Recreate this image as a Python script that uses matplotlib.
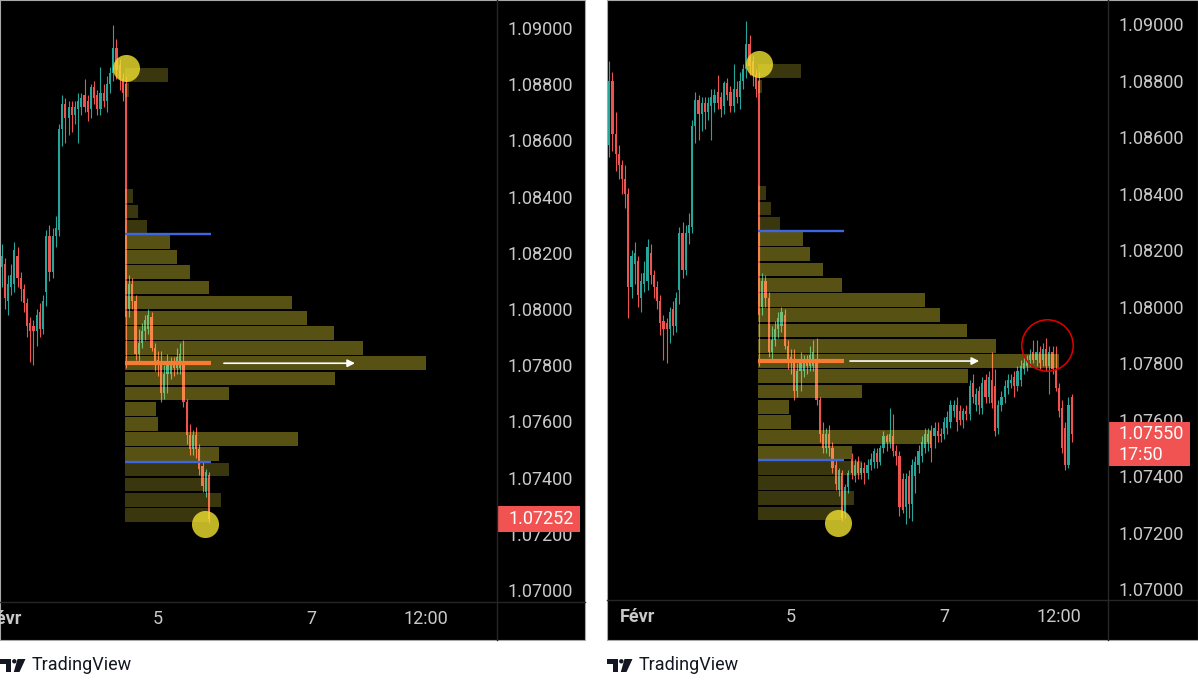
import matplotlib
matplotlib.use("Agg")
import matplotlib.pyplot as plt
from matplotlib.patches import Rectangle, Polygon, Ellipse
from matplotlib.lines import Line2D
import numpy as np

plt.rcParams['font.family'] = ['Roboto', 'DejaVu Sans']

# hourly EURUSD candles, bar 0 = Feb 5 00:00
first_bar = -57
opens = [1.0857, 1.0880, 1.0861, 1.0854, 1.0850, 1.0845, 1.0840, 1.0807, 1.0815, 1.0816,
         1.0803, 1.0808, 1.0809, 1.0819, 1.0811, 1.0807, 1.0802, 1.0795, 1.0794, 1.0792,
         1.0799, 1.0793, 1.0806, 1.0826, 1.0813, 1.0826, 1.0828, 1.0864, 1.0873, 1.0868,
         1.0872, 1.0869, 1.0871, 1.0872, 1.0876, 1.0874, 1.0871, 1.0879, 1.0876, 1.0871,
         1.0877, 1.0874, 1.0880, 1.0884, 1.0893, 1.0887, 1.0882, 1.0880, 1.0800, 1.0809,
         1.0803, 1.0784, 1.0788, 1.0792, 1.0793, 1.0797, 1.0786, 1.0782, 1.0780, 1.0770,
         1.0777, 1.0777, 1.0781, 1.0779, 1.0779, 1.0781, 1.0767, 1.0755, 1.0750, 1.0755,
         1.0750, 1.0744, 1.0735, 1.0741, 1.0727, 1.0736, 1.0746, 1.0740, 1.0745, 1.0741,
         1.0743, 1.0741, 1.0744, 1.0745, 1.0748, 1.0745, 1.0750, 1.0754, 1.0752, 1.0754,
         1.0749, 1.0747, 1.0739, 1.0729, 1.0740, 1.0730, 1.0740, 1.0744, 1.0747, 1.0750,
         1.0752, 1.0756, 1.0754, 1.0756, 1.0755, 1.0755, 1.0757, 1.0759, 1.0763, 1.0765,
         1.0763, 1.0760, 1.0763, 1.0762, 1.0773, 1.0765, 1.0770, 1.0764, 1.0774, 1.0768,
         1.0774, 1.0772, 1.0757, 1.0765, 1.0768, 1.0771, 1.0773, 1.0775, 1.0772, 1.0774,
         1.0778, 1.0779, 1.0781, 1.0784, 1.0781, 1.0784, 1.0781, 1.0785, 1.0779, 1.0784,
         1.0778, 1.0771, 1.0764, 1.0757, 1.0744, 1.0768]
highs = [1.0887, 1.0883, 1.0869, 1.0857, 1.0852, 1.0850, 1.0842, 1.0820, 1.0823, 1.0818,
         1.0812, 1.0816, 1.0824, 1.0822, 1.0813, 1.0809, 1.0804, 1.0797, 1.0796, 1.0800,
         1.0802, 1.0805, 1.0828, 1.0830, 1.0829, 1.0833, 1.0866, 1.0876, 1.0875, 1.0874,
         1.0874, 1.0874, 1.0877, 1.0877, 1.0882, 1.0876, 1.0880, 1.0881, 1.0878, 1.0886,
         1.0880, 1.0883, 1.0886, 1.0901, 1.0896, 1.0889, 1.0884, 1.0883, 1.0812, 1.0811,
         1.0805, 1.0793, 1.0795, 1.0798, 1.0800, 1.0799, 1.0788, 1.0785, 1.0785, 1.0780,
         1.0784, 1.0783, 1.0783, 1.0786, 1.0788, 1.0789, 1.0768, 1.0759, 1.0757, 1.0758,
         1.0752, 1.0746, 1.0743, 1.0742, 1.0737, 1.0742, 1.0748, 1.0746, 1.0747, 1.0745,
         1.0745, 1.0746, 1.0748, 1.0750, 1.0750, 1.0751, 1.0756, 1.0755, 1.0764, 1.0762,
         1.0751, 1.0749, 1.0741, 1.0741, 1.0742, 1.0746, 1.0747, 1.0751, 1.0754, 1.0757,
         1.0757, 1.0758, 1.0759, 1.0759, 1.0757, 1.0761, 1.0763, 1.0767, 1.0767, 1.0768,
         1.0765, 1.0764, 1.0765, 1.0774, 1.0776, 1.0771, 1.0772, 1.0775, 1.0776, 1.0777,
         1.0784, 1.0778, 1.0767, 1.0770, 1.0774, 1.0776, 1.0776, 1.0777, 1.0779, 1.0781,
         1.0782, 1.0783, 1.0785, 1.0788, 1.0788, 1.0786, 1.0787, 1.0789, 1.0786, 1.0786,
         1.0786, 1.0773, 1.0767, 1.0759, 1.0768, 1.0769]
lows = [1.0853, 1.0855, 1.0848, 1.0845, 1.0840, 1.0835, 1.0796, 1.0803, 1.0808, 1.0800,
        1.0798, 1.0805, 1.0806, 1.0808, 1.0803, 1.0799, 1.0790, 1.0781, 1.0780, 1.0787,
        1.0790, 1.0791, 1.0801, 1.0810, 1.0811, 1.0822, 1.0826, 1.0858, 1.0859, 1.0862,
        1.0863, 1.0866, 1.0859, 1.0869, 1.0870, 1.0867, 1.0868, 1.0873, 1.0869, 1.0869,
        1.0872, 1.0870, 1.0877, 1.0881, 1.0882, 1.0878, 1.0874, 1.0779, 1.0797, 1.0800,
        1.0782, 1.0781, 1.0786, 1.0789, 1.0791, 1.0785, 1.0778, 1.0776, 1.0767, 1.0768,
        1.0770, 1.0775, 1.0776, 1.0777, 1.0777, 1.0765, 1.0752, 1.0748, 1.0748, 1.0747,
        1.0741, 1.0735, 1.0733, 1.0724, 1.0725, 1.0734, 1.0739, 1.0738, 1.0739, 1.0739,
        1.0737, 1.0739, 1.0742, 1.0743, 1.0743, 1.0744, 1.0748, 1.0749, 1.0750, 1.0747,
        1.0744, 1.0726, 1.0727, 1.0723, 1.0725, 1.0724, 1.0734, 1.0741, 1.0745, 1.0748,
        1.0749, 1.0745, 1.0750, 1.0752, 1.0752, 1.0753, 1.0755, 1.0757, 1.0761, 1.0756,
        1.0758, 1.0757, 1.0760, 1.0760, 1.0766, 1.0763, 1.0762, 1.0762, 1.0766, 1.0766,
        1.0764, 1.0754, 1.0755, 1.0763, 1.0766, 1.0769, 1.0771, 1.0768, 1.0770, 1.0772,
        1.0776, 1.0777, 1.0779, 1.0780, 1.0779, 1.0778, 1.0779, 1.0777, 1.0769, 1.0776,
        1.0770, 1.0761, 1.0748, 1.0742, 1.0743, 1.0752]
closes = [1.0880, 1.0861, 1.0854, 1.0850, 1.0845, 1.0840, 1.0807, 1.0818, 1.0819, 1.0804,
          1.0809, 1.0812, 1.0821, 1.0811, 1.0807, 1.0802, 1.0794, 1.0792, 1.0792, 1.0798,
          1.0793, 1.0803, 1.0826, 1.0813, 1.0826, 1.0829, 1.0864, 1.0873, 1.0868, 1.0872,
          1.0869, 1.0872, 1.0874, 1.0875, 1.0872, 1.0870, 1.0879, 1.0875, 1.0871, 1.0877,
          1.0874, 1.0880, 1.0884, 1.0893, 1.0885, 1.0882, 1.0877, 1.0797, 1.0809, 1.0803,
          1.0784, 1.0788, 1.0792, 1.0796, 1.0798, 1.0786, 1.0781, 1.0780, 1.0770, 1.0777,
          1.0780, 1.0781, 1.0779, 1.0783, 1.0784, 1.0767, 1.0755, 1.0750, 1.0755, 1.0750,
          1.0743, 1.0737, 1.0742, 1.07252, 1.0736, 1.0741, 1.0741, 1.0744, 1.0741, 1.0743,
          1.0741, 1.0744, 1.0746, 1.0749, 1.0745, 1.0750, 1.0754, 1.0752, 1.0755, 1.0749,
          1.0747, 1.0729, 1.0728, 1.0739, 1.0730, 1.0744, 1.0745, 1.0749, 1.0752, 1.0755,
          1.0755, 1.0750, 1.0757, 1.0754, 1.0754, 1.0759, 1.0761, 1.0765, 1.0765, 1.0759,
          1.0760, 1.0763, 1.0762, 1.0772, 1.0768, 1.0769, 1.0765, 1.0773, 1.0768, 1.0775,
          1.0766, 1.0756, 1.0765, 1.0768, 1.0772, 1.0774, 1.0774, 1.0772, 1.0777, 1.0779,
          1.0780, 1.0781, 1.0783, 1.0781, 1.0784, 1.0780, 1.0785, 1.0779, 1.0784, 1.0778,
          1.0771, 1.0763, 1.0750, 1.0744, 1.0765, 1.0755]
left_last_bar = 16   # the first screenshot stops at the Feb 5 low

# fixed range volume profile, 30 rows from the top anchor down to the low
profile_top = 1.08860
profile_bottom = 1.07240
profile_start = -10.34
profile_vol = [43, 4, 0, 0, 0, 0, 0, 0, 8, 13, 22, 45, 52, 65, 84, 166, 181, 208, 237, 300,
               209, 104, 31, 33, 172, 94, 104, 84, 96, 85]
value_area = (11, 25)

price_ticks = [1.070, 1.072, 1.074, 1.076, 1.078, 1.080, 1.082, 1.084, 1.086, 1.088, 1.090]
time_ticks = [-48, 0, 48, 84]
time_labels = ['Févr', '5', '7', '12:00']

swing_high = (-10.0, 1.08858)
swing_low = (14.8, 1.07235)
retest = (80.3, 1.07864)

UP, DOWN = '#26a69a', '#ef5350'
TXT = '#c9c9c9'
W, H = 1198, 689

fig = plt.figure(figsize=(W / 100, H / 100), dpi=100, facecolor='white')


def fx(px):
    return px / W


def fy(py):
    return 1 - py / H


def draw_panel(x0, plot_w, plot_h, xlim, ylim, last_bar, arrow, label_text):
    panel_w, panel_h = (585 if x0 == 0 else W - x0), 640
    bg = Rectangle((fx(x0), fy(panel_h)), panel_w / W, panel_h / H, transform=fig.transFigure,
                   facecolor='black', edgecolor='#a8a8a8', lw=0.8, zorder=-5)
    fig.add_artist(bg)

    ax = fig.add_axes([fx(x0), fy(plot_h), plot_w / W, plot_h / H])
    ax.set_facecolor('none')
    for s in ax.spines.values():
        s.set_visible(False)

    n = last_bar - first_bar + 1
    x = first_bar + np.arange(n)
    o = np.array(opens[:n]); h = np.array(highs[:n])
    l = np.array(lows[:n]); c = np.array(closes[:n])
    col = np.where(c >= o, UP, DOWN)
    ax.vlines(x, l, h, colors=col, lw=0.8, zorder=2)
    ax.bar(x, np.maximum(np.abs(c - o), 0.00003), bottom=np.minimum(o, c), width=0.68,
           color=col, linewidth=0, zorder=2)

    # volume profile
    vol = np.array(profile_vol, dtype=float)
    rows = len(vol)
    row = (profile_top - profile_bottom) / rows
    centers = profile_top - (np.arange(rows) + 0.5) * row
    widths = vol / vol.max() * 94.4
    in_va = (np.arange(rows) >= value_area[0]) & (np.arange(rows) <= value_area[1])
    colors = [(1.0, 0.92, 0.23, 0.35) if v else (1.0, 0.92, 0.23, 0.23) for v in in_va]
    ax.barh(centers, widths, left=profile_start, height=row * 0.9, color=colors,
            linewidth=0, zorder=3)
    vah = profile_top - value_area[0] * row
    val = profile_top - (value_area[1] + 1) * row
    poc = centers[np.argmax(vol)]
    ax.hlines([vah, val], profile_start, profile_start + 27, colors='#3d66e0', lw=1.7, zorder=4)
    ax.hlines(poc, profile_start, profile_start + 27, colors='#f77b32', lw=3.0, zorder=4)
    ax.annotate('', xy=(arrow[1], poc), xytext=(arrow[0], poc), zorder=5,
                arrowprops=dict(arrowstyle='-|>', color='white', lw=1.2, mutation_scale=11,
                                shrinkA=0, shrinkB=0))

    for px, py in (swing_high, swing_low):
        ax.plot(px, py, 'o', ms=19.5, color='#f0e130', alpha=0.8, mec='none', zorder=6)

    ax.set_xlim(*xlim)
    ax.set_ylim(*ylim)
    ax.yaxis.tick_right()
    ax.set_yticks(price_ticks)
    ax.set_yticklabels([f'{t:.5f}' for t in price_ticks])
    ax.set_xticks(time_ticks)
    ax.set_xticklabels(time_labels)
    ax.get_xticklabels()[0].set_fontweight('bold')
    ax.tick_params(axis='y', length=0, pad=7.5, labelsize=13, labelcolor=TXT)
    ax.tick_params(axis='x', length=0, pad=6, labelsize=13, labelcolor=TXT)

    # separators of the price and time scales
    fig.add_artist(Line2D([fx(x0 + plot_w)] * 2, [fy(0), fy(panel_h)], color='#262626', lw=1))
    fig.add_artist(Line2D([fx(x0), fx(x0 + panel_w)], [fy(plot_h)] * 2, color='#262626', lw=1))

    # last price label
    pax = fig.add_axes([fx(x0 + plot_w), fy(plot_h), (panel_w - plot_w) / W, plot_h / H])
    pax.set_xlim(0, panel_w - plot_w)
    pax.set_ylim(*ylim)
    pax.axis('off')
    dy = (ylim[1] - ylim[0]) / plot_h
    last = closes[n - 1]
    if label_text is None:
        pax.add_patch(Rectangle((0, last - 13 * dy), 83, 26 * dy, color='#f05352', lw=0))
        pax.text(11, last, f'{last:.5f}', color='white', fontsize=13, va='center')
    else:
        pax.add_patch(Rectangle((0, last - 32.5 * dy), 82, 44 * dy, color='#f05352', lw=0))
        pax.text(10, last, f'{last:.5f}', color='white', fontsize=13, va='center')
        pax.text(10, last - 21 * dy, label_text, color='white', fontsize=13, va='center')

    # TradingView logo
    ink = '#131722'
    t_shape = [(0, 659), (10.5, 659), (10.5, 672), (6, 672), (6, 663.5), (0, 663.5)]
    slash = [(17.5, 659), (25.5, 659), (19.5, 672), (13.8, 672)]
    for shape in (t_shape, slash):
        fig.add_artist(Polygon([(fx(x0 + a), fy(b)) for a, b in shape], closed=True,
                               transform=fig.transFigure, facecolor=ink, edgecolor='none'))
    fig.add_artist(Ellipse((fx(x0 + 14.3), fy(661.3)), 4.4 / W, 4.4 / H,
                           transform=fig.transFigure, facecolor=ink, edgecolor='none'))
    fig.text(fx(x0 + 32), fy(665.5), 'TradingView', fontsize=13, color=ink,
             ha='left', va='center')
    return ax


left = draw_panel(0, 497, 602, (-49.5, 106.3), (1.069573, 1.090996), left_last_bar,
                  (20.7, 61.8), None)
right = draw_panel(607, 501, 600, (-57.7, 99.4), (1.069611, 1.090850),
                   first_bar + len(closes) - 1, (18.5, 59.0), '17:50')
right.plot(*retest, 'o', ms=37, mfc='none', mec='#e00000', mew=1.1, zorder=7)

fig.savefig('out.png', dpi=100, facecolor='white')
